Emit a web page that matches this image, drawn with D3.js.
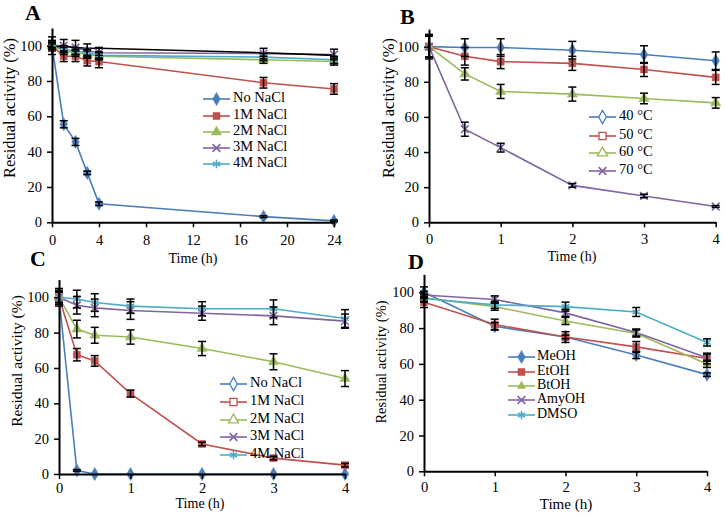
<!DOCTYPE html>
<html><head><meta charset="utf-8">
<script src="https://cdn.jsdelivr.net/npm/d3@7/dist/d3.min.js"></script>
<style>
html,body{margin:0;padding:0;background:#fff;}
svg text{font-family:"Liberation Serif","Times New Roman",serif;fill:#000;}
</style></head>
<body><svg id="c" width="726" height="516"></svg>
<script>
// ---------- Panel A: NaCl stability over 24 h ----------
const timeA = [0, 1, 2, 3, 4, 18, 24];
const namesA = ["No NaCl", "1M NaCl", "2M NaCl", "3M NaCl", "4M NaCl"];
const noNaClA = [100, 55.5, 45.5, 28, 10.5, 3.2, 0.8];
const m1A = [100, 94, 94, 91.5, 91, 79, 75.5];
const m2A = [100, 97, 96, 95, 94, 92, 91];
const m3A = [100, 100, 99, 97, 96, 95.5, 95];
const m4A = [100, 98, 97, 96, 94.5, 93.5, 92];
const blackA = [99.5, 99.5, 99, 98.5, 98.5, 96, 94.5];
const errNoA = [1, 2, 2, 1, 1, 0.5, 0.5];
const err1A = [3, 3, 3, 3, 3.5, 3, 3];
const err2A = [2, 2, 2, 2, 2, 2, 2];
const err3A = [5, 3.5, 4, 4, 3, 3, 3];
const err4A = [2, 2, 2, 2, 2, 2, 2];
const xTicksA = [0, 4, 8, 12, 16, 20, 24];

// ---------- Panel B: temperature stability ----------
const timeB = [0, 0.5, 1, 2, 3, 4];
const namesB = ["40  °C", "50  °C", "60  °C", "70  °C"];
const t40 = [100, 99.5, 99.5, 98, 95.5, 92];
const t50 = [100, 94.5, 91.5, 90.5, 87, 82.5];
const t60 = [100, 84.5, 74.5, 73, 70.5, 68];
const t70 = [100, 53, 42.5, 21, 15, 9];
const err40 = [7, 5, 5, 5, 5, 5];
const err50 = [6, 5, 4, 4, 4, 4];
const err60 = [6, 3.5, 4, 4, 3, 3];
const err70 = [6, 4, 2.5, 1, 1, 0.5];
const xTicksB = [0, 1, 2, 3, 4];

// ---------- Panel C: NaCl stability at high temp ----------
const timeC = [0, 0.25, 0.5, 1, 2, 3, 4];
const namesC = ["No NaCl", "1M NaCl", "2M NaCl", "3M NaCl", "4M NaCl"];
const noNaClC = [100, 2, 0, 0, 0, 0, 0];
const m1C = [100, 67.5, 64, 45.5, 17, 9, 5];
const m2C = [100, 82, 78.5, 77.5, 71, 63.5, 54];
const m3C = [100, 95.5, 94, 92.5, 91, 89.5, 86.5];
const m4C = [100, 99, 97, 95, 93.5, 93.5, 88];
const errNoC = [5, 0.5, 0, 0, 0, 0, 0];
const err1C = [3, 3.5, 3, 2, 1, 1, 1];
const err2C = [3, 5, 4.5, 4, 4, 4.5, 4.5];
const err3C = [4, 5, 5, 5, 4, 5, 4];
const err4C = [3, 5, 5, 4, 4, 5, 5];
const xTicksC = [0, 1, 2, 3, 4];

// ---------- Panel D: organic solvents ----------
const timeD = [0, 1, 2, 3, 4];
const namesD = ["MeOH", "EtOH", "BtOH", "AmyOH", "DMSO"];
const meoh = [100, 81, 75, 65, 54];
const etoh = [94.5, 82, 75, 69.5, 63];
const btoh = [97, 92, 84, 77, 60];
const amyoh = [98.5, 96, 88.5, 77.5, 63.5];
const dmso = [96.5, 93, 92, 89, 72];
const errMe = [3, 2, 1, 2, 1];
const errEt = [3, 3, 3, 3, 3];
const errBt = [2, 2, 2, 2, 2];
const errAmy = [2, 2, 2, 2, 2];
const errDm = [2, 2, 2.5, 2.5, 2];
const xTicksD = [0, 1, 2, 3, 4];

const yTicks = [0, 20, 40, 60, 80, 100];

// ---------- drawing ----------
const COL = {blue:"#4a7ebb", red:"#c0504d", green:"#9bbb59", purple:"#8064a2", cyan:"#4bacc6"};
const svg = d3.select("#c");
const FONT = '"Liberation Serif","Times New Roman",serif';

const SYM = {
  diamond: {t: d3.symbolDiamond, s: 50, stroke: false},
  square: {t: d3.symbolSquare, s: 50, stroke: false},
  triangle: {t: d3.symbolTriangle, s: 45, stroke: false},
  smalltri: {t: d3.symbolTriangle, s: 30, stroke: false},
  x: {t: d3.symbolX, s: 40, stroke: true},
  ast: {t: d3.symbolAsterisk, s: 50, stroke: true}
};

function marker(g, shape, color, x, y, open) {
  const s = SYM[shape];
  const p = g.append("path")
    .attr("d", d3.symbol().type(s.t).size(s.s)())
    .attr("transform", `translate(${x},${y})`);
  if (s.stroke) p.attr("fill", "none").attr("stroke", color).attr("stroke-width", 1.6);
  else if (open) p.attr("fill", "#fff").attr("stroke", color).attr("stroke-width", 1.3);
  else p.attr("fill", color).attr("stroke", color).attr("stroke-width", 0.5);
}

function panel(cfg) {
  const g = svg.append("g");
  const x = d3.scaleLinear().domain(cfg.xdom).range([cfg.x0, cfg.x1]);
  const y = d3.scaleLinear().domain([0, 110]).range([cfg.y0, cfg.yTop]);

  cfg.series.forEach(s => {
    const line = d3.line().x((d, i) => x(cfg.time[i])).y(d => y(d));
    g.append("path").datum(s.v).attr("d", line)
      .attr("fill", "none").attr("stroke", s.c).attr("stroke-width", 1.6);
  });
  if (cfg.extra) {
    const line = d3.line().x((d, i) => x(cfg.time[i])).y(d => y(d));
    g.append("path").datum(cfg.extra).attr("d", line)
      .attr("fill", "none").attr("stroke", "#000").attr("stroke-width", 1.6);
  }
  cfg.series.forEach(s => {
    s.v.forEach((v, i) => marker(g, s.m, s.c, x(cfg.time[i]), y(v), false));
  });
  cfg.series.forEach(s => {
    s.v.forEach((v, i) => {
      const e = s.e[i];
      if (!e) return;
      const cx = x(cfg.time[i]);
      const eg = g.append("g").attr("stroke", "#000").attr("stroke-width", 1.5);
      eg.append("line").attr("x1", cx).attr("x2", cx).attr("y1", y(v - e)).attr("y2", y(v + e));
      [v - e, v + e].forEach(t => eg.append("line")
        .attr("x1", cx - 4).attr("x2", cx + 4).attr("y1", y(t)).attr("y2", y(t)));
    });
  });

  const ax = g.append("g").attr("transform", `translate(0,${cfg.y0})`)
    .call(d3.axisBottom(x).tickValues(cfg.xticks).tickFormat(d3.format("d"))
      .tickSize(5).tickSizeOuter(0).tickPadding(cfg.xpad));
  const ay = g.append("g").attr("transform", `translate(${cfg.x0},0)`)
    .call(d3.axisLeft(y).tickValues(yTicks).tickFormat(d3.format("d"))
      .tickSize(5).tickSizeOuter(0).tickPadding(5));
  [ax, ay].forEach(a => {
    a.attr("font-family", FONT);
    a.selectAll("text").attr("font-size", 14.5);
    a.select(".domain").attr("stroke-width", 2);
    a.selectAll(".tick line").attr("stroke-width", 1.5);
  });

  g.append("text").attr("x", cfg.xlab[0]).attr("y", cfg.xlab[1]).attr("text-anchor", "middle")
    .attr("dominant-baseline", "middle").attr("font-size", cfg.xlab[2]).text("Time (h)");
  g.append("text").attr("transform", `translate(${cfg.ylab[0]},${cfg.ylab[1]}) rotate(-90)`)
    .attr("text-anchor", "middle").attr("dominant-baseline", "middle")
    .attr("font-size", cfg.ylab[2]).text("Residual activity (%)");
  g.append("text").attr("x", cfg.letter[1]).attr("y", cfg.letter[2])
    .attr("font-size", 22).attr("font-weight", "bold").attr("dominant-baseline", "middle")
    .text(cfg.letter[0]);

  const L = cfg.legend;
  cfg.series.forEach((s, i) => {
    const ly = L.ys[i];
    g.append("line").attr("x1", L.x0).attr("x2", L.x1).attr("y1", ly).attr("y2", ly)
      .attr("stroke", s.c).attr("stroke-width", 1.6);
    marker(g, s.m, s.c, (L.x0 + L.x1) / 2, ly, L.open);
    g.append("text").attr("x", L.tx).attr("y", ly).attr("dominant-baseline", "middle")
      .attr("font-size", L.fs).text(s.n);
  });
}

panel({
  xdom: [0, 24], x0: 52, x1: 334, y0: 222.3, yTop: 28, time: timeA, xticks: xTicksA, xpad: 7,
  series: [
    {n: namesA[0], v: noNaClA, e: errNoA, c: COL.blue, m: "diamond"},
    {n: namesA[1], v: m1A, e: err1A, c: COL.red, m: "square"},
    {n: namesA[2], v: m2A, e: err2A, c: COL.green, m: "triangle"},
    {n: namesA[3], v: m3A, e: err3A, c: COL.purple, m: "x"},
    {n: namesA[4], v: m4A, e: err4A, c: COL.cyan, m: "ast"}
  ],
  extra: blackA,
  xlab: [193, 260, 14], ylab: [11, 108, 16.5], letter: ["A", 25, 15],
  legend: {x0: 203, x1: 230, tx: 233, ys: [99, 116, 132, 148, 164], open: false, fs: 14.5}
});

panel({
  xdom: [0, 4], x0: 429, x1: 715.7, y0: 222.3, yTop: 29.1, time: timeB, xticks: xTicksB, xpad: 6,
  series: [
    {n: namesB[0], v: t40, e: err40, c: COL.blue, m: "diamond"},
    {n: namesB[1], v: t50, e: err50, c: COL.red, m: "square"},
    {n: namesB[2], v: t60, e: err60, c: COL.green, m: "triangle"},
    {n: namesB[3], v: t70, e: err70, c: COL.purple, m: "x"}
  ],
  xlab: [572, 258, 14], ylab: [390, 108, 16.5], letter: ["B", 400, 19],
  legend: {x0: 589, x1: 616, tx: 619, ys: [117, 136, 153, 171], open: true, fs: 14.5}
});

panel({
  xdom: [0, 4], x0: 59, x1: 345, y0: 474, yTop: 279.6, time: timeC, xticks: xTicksC, xpad: 4,
  series: [
    {n: namesC[0], v: noNaClC, e: errNoC, c: COL.blue, m: "diamond"},
    {n: namesC[1], v: m1C, e: err1C, c: COL.red, m: "square"},
    {n: namesC[2], v: m2C, e: err2C, c: COL.green, m: "triangle"},
    {n: namesC[3], v: m3C, e: err3C, c: COL.purple, m: "x"},
    {n: namesC[4], v: m4C, e: err4C, c: COL.cyan, m: "ast"}
  ],
  xlab: [200, 505, 14], ylab: [18, 361, 15.5], letter: ["C", 30, 261],
  legend: {x0: 220, x1: 247, tx: 250, ys: [384, 402, 420, 437, 455], open: true, fs: 14.5}
});

panel({
  xdom: [0, 4], x0: 424, x1: 707, y0: 471.3, yTop: 274.4, time: timeD, xticks: xTicksD, xpad: 5,
  series: [
    {n: namesD[0], v: meoh, e: errMe, c: COL.blue, m: "diamond"},
    {n: namesD[1], v: etoh, e: errEt, c: COL.red, m: "square"},
    {n: namesD[2], v: btoh, e: errBt, c: COL.green, m: "smalltri"},
    {n: namesD[3], v: amyoh, e: errAmy, c: COL.purple, m: "x"},
    {n: namesD[4], v: dmso, e: errDm, c: COL.cyan, m: "ast"}
  ],
  xlab: [566, 506, 15], ylab: [383, 362, 14.5], letter: ["D", 408, 264],
  legend: {x0: 508, x1: 535, tx: 537, ys: [357, 372, 386, 400, 415], open: false, fs: 14}
});
</script></body></html>
